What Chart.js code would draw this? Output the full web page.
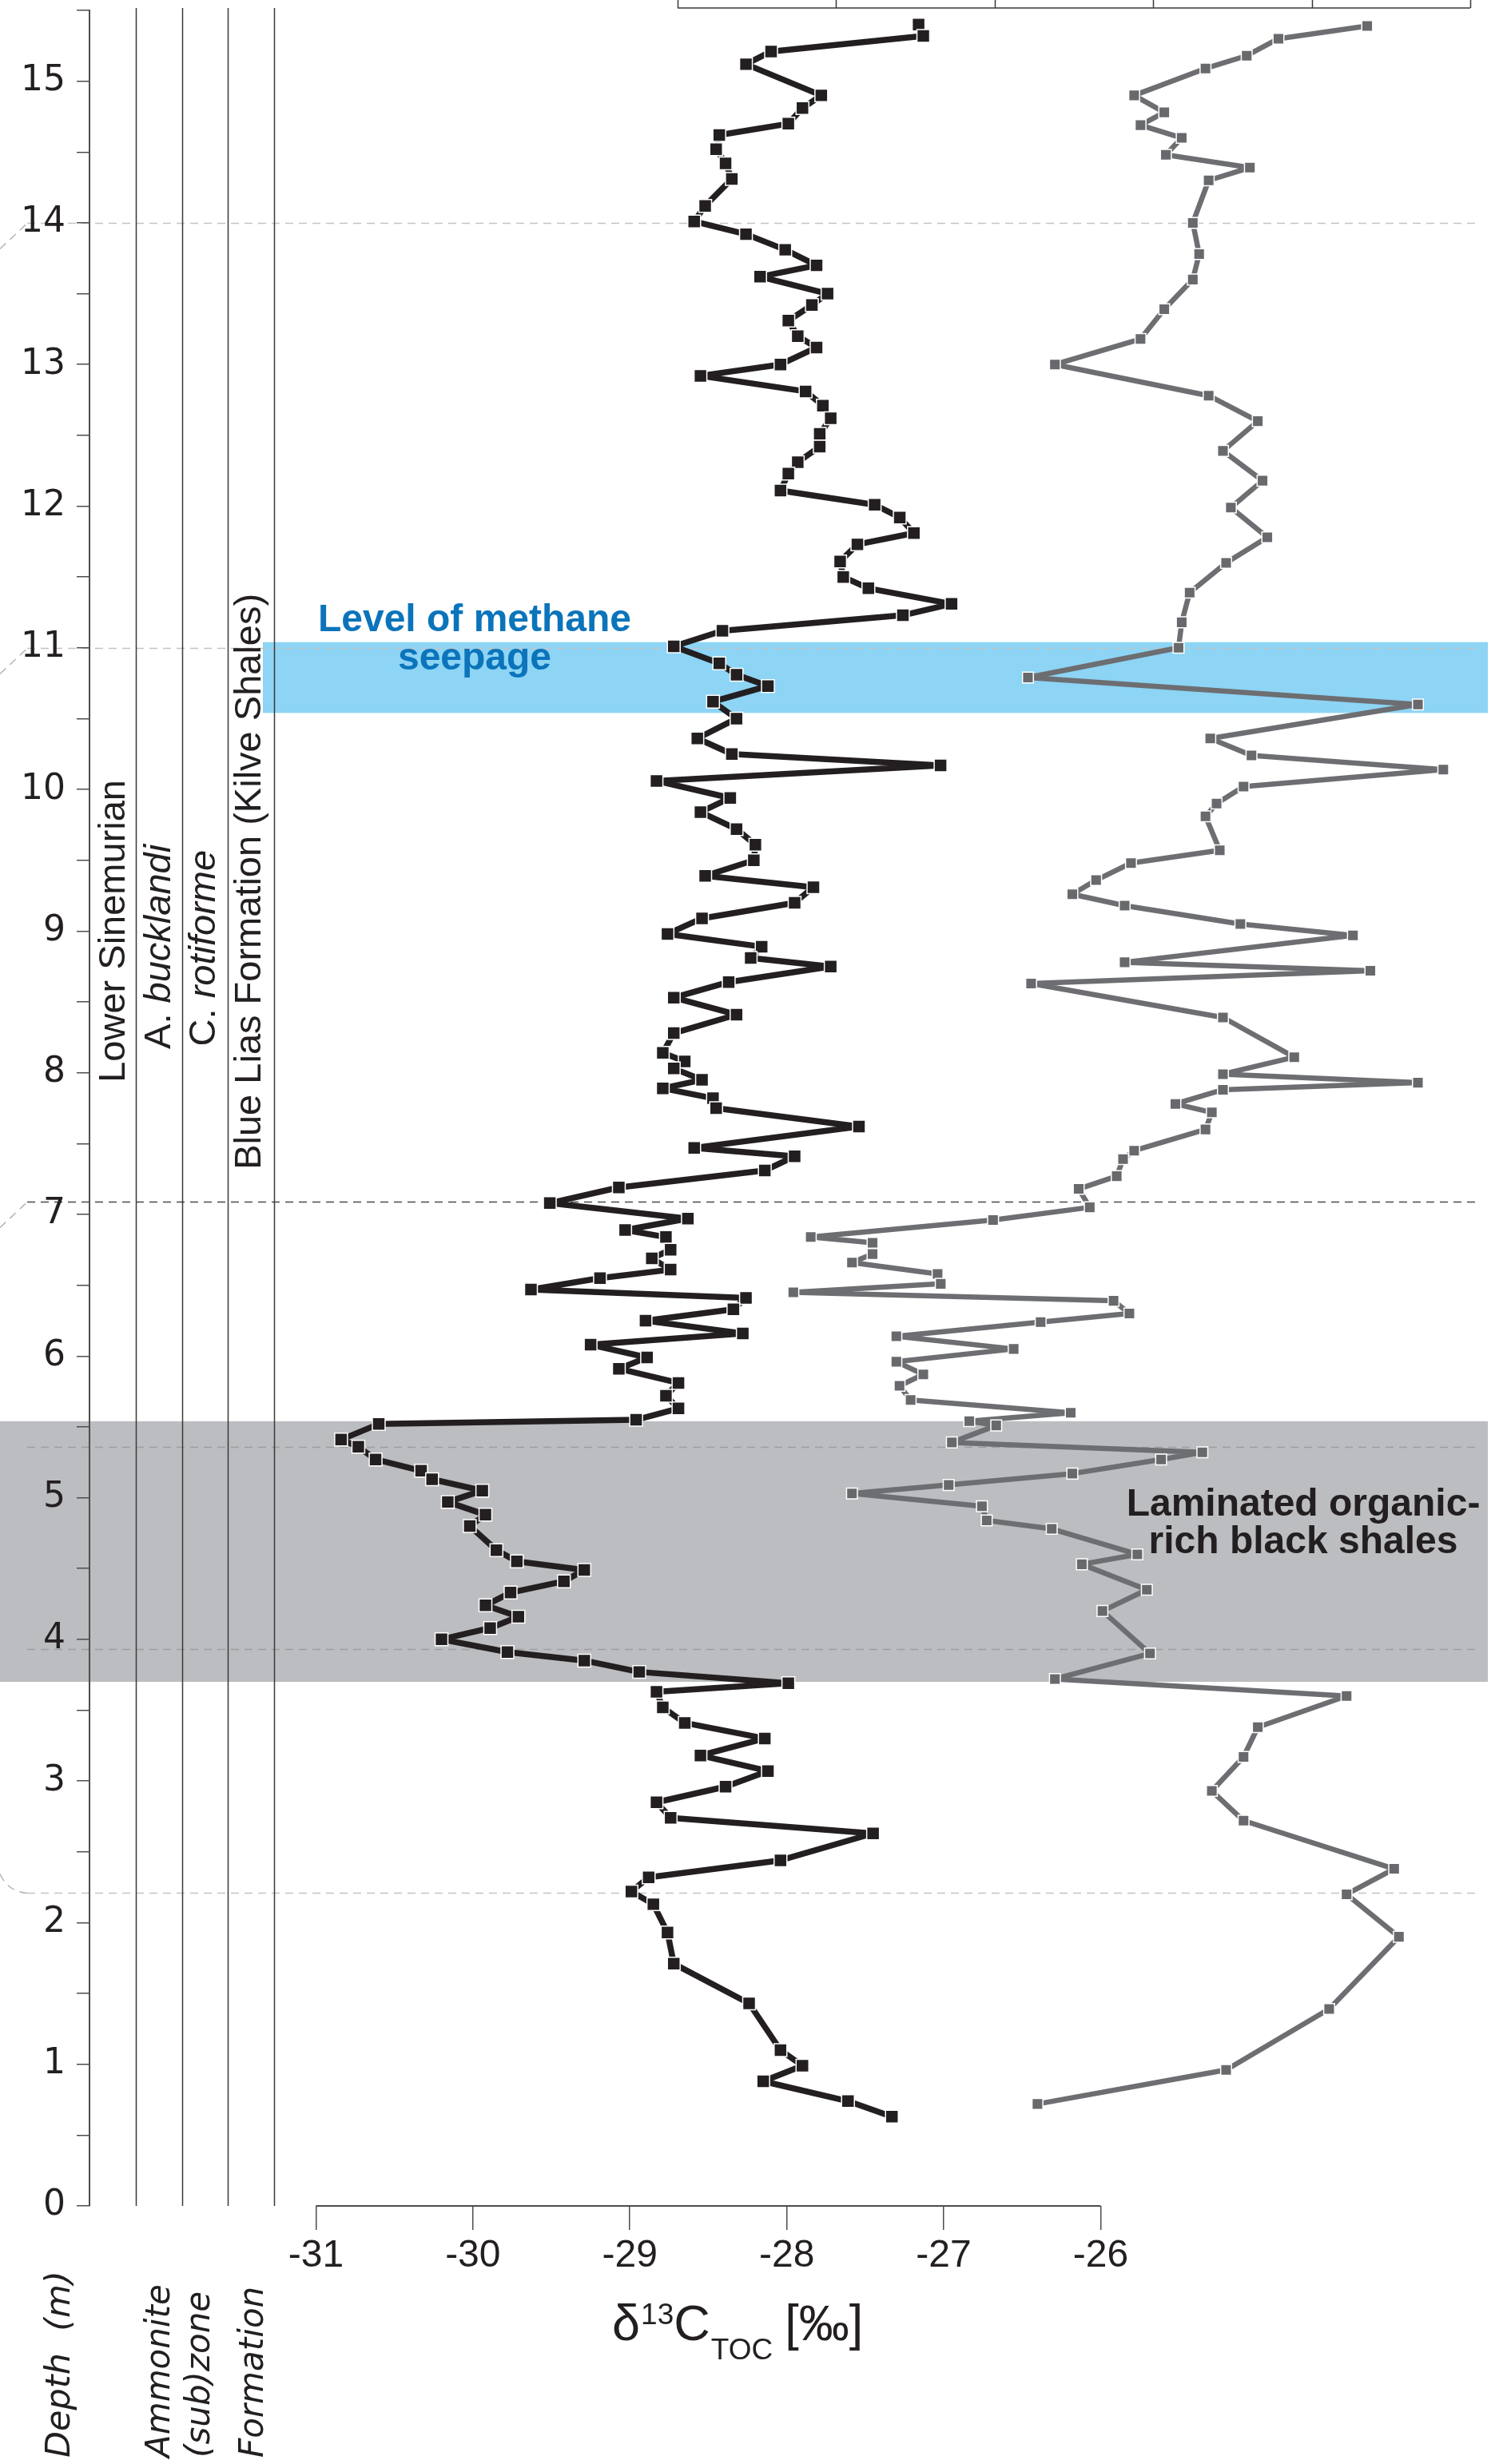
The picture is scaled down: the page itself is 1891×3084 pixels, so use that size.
<!DOCTYPE html>
<html>
<head>
<meta charset="utf-8">
<script src="https://cdn.jsdelivr.net/npm/chart.js@4.4.1/dist/chart.umd.min.js"></script>
<style>
  html, body { margin: 0; padding: 0; background: #ffffff; }
  #wrap { width: 1891px; height: 3084px; }
</style>
</head>
<body>
<div id="wrap"><canvas id="profile" width="1891" height="3084"></canvas></div>
<script>
// δ13C of total organic carbon, Kilve section (depth in m, value in ‰)
const tocDepth = [15.40,15.32,15.21,15.12,14.90,14.81,14.70,14.62,14.52,14.42,
  14.31,14.12,14.01,13.92,13.81,13.70,13.62,13.50,13.42,13.31,
  13.20,13.12,13.00,12.92,12.81,12.71,12.62,12.51,12.42,12.31,
  12.23,12.11,12.01,11.92,11.81,11.73,11.61,11.50,11.42,11.31,
  11.23,11.12,11.01,10.89,10.81,10.73,10.62,10.50,10.36,10.25,
  10.17,10.06,9.94,9.84,9.72,9.61,9.50,9.39,9.31,9.20,
  9.09,8.98,8.89,8.81,8.75,8.64,8.53,8.41,8.28,8.14,
  8.08,8.03,7.95,7.89,7.82,7.75,7.62,7.47,7.41,7.31,
  7.19,7.08,6.97,6.89,6.84,6.75,6.69,6.61,6.55,6.47,
  6.41,6.33,6.25,6.16,6.08,5.99,5.91,5.81,5.72,5.63,
  5.55,5.52,5.41,5.36,5.27,5.19,5.13,5.05,4.97,4.88,
  4.80,4.63,4.55,4.49,4.41,4.33,4.24,4.16,4.08,4.00,
  3.91,3.85,3.77,3.69,3.63,3.52,3.41,3.30,3.18,3.07,
  2.96,2.85,2.74,2.63,2.44,2.32,2.22,2.13,1.93,1.71,
  1.43,1.10,0.99,0.88,0.74,0.63];
const tocIso = [-27.16,-27.13,-28.10,-28.26,-27.78,-27.90,-27.99,-28.43,-28.45,-28.39,
  -28.35,-28.52,-28.59,-28.26,-28.01,-27.81,-28.17,-27.74,-27.84,-27.99,
  -27.93,-27.81,-28.04,-28.55,-27.88,-27.77,-27.72,-27.79,-27.79,-27.93,
  -27.99,-28.04,-27.44,-27.28,-27.19,-27.55,-27.66,-27.64,-27.48,-26.95,
  -27.26,-28.41,-28.72,-28.43,-28.32,-28.12,-28.47,-28.32,-28.57,-28.35,
  -27.02,-28.83,-28.36,-28.55,-28.32,-28.20,-28.21,-28.52,-27.83,-27.95,
  -28.54,-28.76,-28.16,-28.23,-27.72,-28.37,-28.72,-28.32,-28.72,-28.79,
  -28.65,-28.72,-28.54,-28.79,-28.47,-28.45,-27.54,-28.59,-27.95,-28.14,
  -29.07,-29.51,-28.63,-29.03,-28.77,-28.74,-28.86,-28.74,-29.19,-29.63,
  -28.26,-28.34,-28.90,-28.28,-29.25,-28.89,-29.07,-28.69,-28.77,-28.69,
  -28.96,-30.60,-30.84,-30.73,-30.62,-30.33,-30.26,-29.94,-30.16,-29.92,
  -30.02,-29.85,-29.72,-29.29,-29.42,-29.76,-29.92,-29.71,-29.89,-30.20,
  -29.78,-29.29,-28.94,-27.99,-28.83,-28.79,-28.65,-28.14,-28.55,-28.12,
  -28.39,-28.83,-28.74,-27.45,-28.04,-28.88,-28.99,-28.85,-28.76,-28.72,
  -28.24,-28.04,-27.90,-28.15,-27.61,-27.33];

// Second profile, plotted against the upper scale
const upperDepth = [15.39,15.30,15.18,15.09,14.90,14.78,14.69,14.60,14.48,14.39,
  14.30,14.00,13.78,13.60,13.39,13.18,13.00,12.78,12.60,12.39,
  12.18,11.99,11.78,11.60,11.39,11.18,11.00,10.79,10.60,10.36,
  10.24,10.14,10.02,9.90,9.81,9.57,9.48,9.36,9.26,9.18,
  9.05,8.97,8.78,8.72,8.63,8.39,8.11,7.99,7.93,7.88,
  7.78,7.72,7.60,7.45,7.39,7.27,7.18,7.05,6.96,6.84,
  6.80,6.72,6.66,6.58,6.51,6.45,6.39,6.30,6.24,6.14,
  6.05,5.96,5.87,5.79,5.69,5.60,5.54,5.51,5.39,5.32,
  5.27,5.17,5.09,5.03,4.94,4.84,4.78,4.60,4.53,4.35,
  4.20,3.90,3.72,3.60,3.38,3.17,2.93,2.72,2.38,2.20,
  1.90,1.39,0.96,0.72];
const upperVal = [4.35,3.79,3.59,3.33,2.88,3.07,2.92,3.18,3.08,3.61,
  3.35,3.25,3.29,3.25,3.07,2.92,2.38,3.35,3.66,3.44,
  3.69,3.49,3.72,3.46,3.23,3.18,3.16,2.21,4.67,3.36,
  3.62,4.83,3.57,3.40,3.33,3.42,2.86,2.64,2.49,2.82,
  3.55,4.26,2.82,4.37,2.23,3.44,3.89,3.44,4.67,3.44,
  3.14,3.37,3.33,2.88,2.81,2.77,2.53,2.60,1.99,0.84,
  1.23,1.23,1.10,1.64,1.66,0.73,2.75,2.85,2.29,1.38,
  2.12,1.38,1.55,1.40,1.47,2.48,1.84,2.01,1.73,3.31,
  3.05,2.49,1.71,1.10,1.92,1.95,2.36,2.90,2.55,2.96,
  2.68,2.98,2.38,4.22,3.66,3.57,3.37,3.57,4.52,4.22,
  4.55,4.11,3.46,2.27];

// Axis ticks
const depthTicks = [0,0.5,1,1.5,2,2.5,3,3.5,4,4.5,5,5.5,6,6.5,7,7.5,8,8.5,9,9.5,
  10,10.5,11,11.5,12,12.5,13,13.5,14,14.5,15,15.5];
const isoTicks = [-31,-30,-29,-28,-27,-26];
const upperTicks = [0,1,2,3,4,5];

// Intervals and correlation levels (depth, m)
const seepageBand = [10.54, 11.04];
const shaleBand = [3.70, 5.54];
const correlationLevels = [14.0, 11.0, 7.09, 5.36, 3.93, 2.21];
const mainLevel = 7.09;

const INK = '#231f20';
const SANS = "'Liberation Sans', Arial, sans-serif";
const WIDE = "'DejaVu Sans', Verdana, sans-serif";

function vText(ctx, parts, x, y, align) {
  // text rotated to read bottom-to-top; parts = [[text, font], ...]
  ctx.save();
  ctx.translate(x, y);
  ctx.rotate(-Math.PI / 2);
  ctx.textBaseline = 'alphabetic';
  ctx.textAlign = 'left';
  let total = 0;
  const widths = parts.map(([t, f]) => { ctx.font = f; const w = ctx.measureText(t).width; total += w; return w; });
  let cx = align === 'center' ? -total / 2 : 0;
  parts.forEach(([t, f], i) => { ctx.font = f; ctx.fillText(t, cx, 0); cx += widths[i]; });
  ctx.restore();
}

const sectionPlugin = {
  id: 'section',
  beforeDraw(chart) {
    const { ctx, chartArea: ca, scales: { y } } = chart;
    ctx.save();
    // laminated black shale interval
    const sTop = y.getPixelForValue(shaleBand[1]);
    const sBot = y.getPixelForValue(shaleBand[0]);
    ctx.fillStyle = '#bcbdc0';
    ctx.fillRect(0, sTop, ca.right, sBot - sTop);
    // methane seepage level
    const bTop = y.getPixelForValue(seepageBand[1]);
    const bBot = y.getPixelForValue(seepageBand[0]);
    ctx.fillStyle = '#8dd4f5';
    ctx.fillRect(329, bTop, ca.right - 329, bBot - bTop);

    // correlation levels
    ctx.lineWidth = 1.5;
    ctx.setLineDash([10, 7]);
    correlationLevels.forEach(d => {
      const py = Math.round(y.getPixelForValue(d)) + 0.5;
      const main = d === mainLevel;
      const inShale = d > shaleBand[0] && d < shaleBand[1];
      ctx.strokeStyle = main ? '#4a4a4a' : (inShale ? '#9d9ea1' : '#c4c4c4');
      ctx.beginPath();
      ctx.moveTo(34, py);
      ctx.lineTo(1850, py);
      ctx.stroke();
      if (!inShale) {
        ctx.strokeStyle = '#b5b5b5';
        ctx.beginPath();
        if (d < 3) { ctx.moveTo(0, py - 24); ctx.quadraticCurveTo(10, py - 2, 34, py); }
        else { ctx.moveTo(0, py + 32); ctx.lineTo(34, py); }
        ctx.stroke();
      }
    });
    ctx.setLineDash([]);

    // stratigraphic column dividers
    ctx.strokeStyle = '#3a3a3a';
    ctx.lineWidth = 1.5;
    [170, 228, 285, 343].forEach(x => {
      ctx.beginPath();
      ctx.moveTo(x + 0.5, 10);
      ctx.lineTo(x + 0.5, ca.bottom);
      ctx.stroke();
    });
    ctx.restore();
  },
  afterDraw(chart) {
    const { ctx, chartArea: ca, scales: { x, y, x2 } } = chart;
    ctx.save();
    ctx.fillStyle = INK;

    // bottom axis line, limited to the labelled range
    ctx.strokeStyle = '#4d4d4d';
    ctx.lineWidth = 2;
    ctx.beginPath();
    ctx.moveTo(x.getPixelForValue(isoTicks[0]), ca.bottom);
    ctx.lineTo(x.getPixelForValue(isoTicks[isoTicks.length - 1]), ca.bottom);
    ctx.stroke();

    // upper scale frame
    ctx.strokeStyle = '#3a3a3a';
    ctx.lineWidth = 1.5;
    const u0 = x2.getPixelForValue(upperTicks[0]);
    const u1 = x2.getPixelForValue(upperTicks[upperTicks.length - 1]);
    ctx.beginPath();
    ctx.moveTo(u0, 10); ctx.lineTo(u1, 10);
    upperTicks.forEach(v => { const px = Math.round(x2.getPixelForValue(v)) + 0.5; ctx.moveTo(px, 0); ctx.lineTo(px, 10); });
    ctx.stroke();

    // axis title δ13C TOC [‰]
    const big = `63px ${SANS}`, small = `37px ${SANS}`;
    const tb = 2929;
    let tx = 766;
    ctx.textBaseline = 'alphabetic';
    ctx.textAlign = 'left';
    const put = (t, f, dy, gap) => { ctx.font = f; ctx.fillText(t, tx, tb + dy); tx += ctx.measureText(t).width + gap; };
    put('\u03B4', big, 0, 1);
    put('13', small, -20, 0);
    put('C', big, 0, 1);
    put('TOC', small, 24, 15);
    put('[\u2030]', big, 0, 0);

    // annotations
    ctx.textAlign = 'center';
    ctx.font = `bold 48px ${SANS}`;
    ctx.fillStyle = '#0b74bb';
    ctx.fillText('Level of methane', 594, y.getPixelForValue(11.116));
    ctx.fillText('seepage', 594, y.getPixelForValue(10.848));
    ctx.fillStyle = INK;
    ctx.fillText('Laminated organic-', 1631, y.getPixelForValue(4.872));
    ctx.fillText('rich black shales', 1631, y.getPixelForValue(4.607));

    // stratigraphic column labels
    const colFont = `47px ${SANS}`, colItal = `italic 47px ${SANS}`;
    vText(ctx, [['Lower Sinemurian', colFont]], 156, y.getPixelForValue(9.0), 'center');
    vText(ctx, [['A. ', colFont], ['bucklandi', colItal]], 213, y.getPixelForValue(8.89), 'center');
    vText(ctx, [['C. ', colFont], ['rotiforme', colItal]], 269, y.getPixelForValue(8.88), 'center');
    vText(ctx, [['Blue Lias Formation (Kilve Shales)', colFont]], 326, y.getPixelForValue(9.35), 'center');

    // column headings
    const hFont = `oblique 42px ${WIDE}`;
    vText(ctx, [['Depth  (m)', `oblique 43px ${WIDE}`]], 87, 3076, 'left');
    vText(ctx, [['Ammonite', hFont]], 212, 3076, 'left');
    vText(ctx, [['(sub)zone', hFont]], 262, 3076, 'left');
    vText(ctx, [['Formation', hFont]], 329, 3076, 'left');
    ctx.restore();
  }
};

const tocPoints = tocDepth.map((d, i) => ({ x: tocIso[i], y: d }));
const upperPoints = upperDepth.map((d, i) => ({ x: upperVal[i], y: d }));

new Chart(document.getElementById('profile'), {
  type: 'scatter',
  data: {
    datasets: [
      {
        data: upperPoints,
        xAxisID: 'x2',
        showLine: true,
        borderColor: '#6d6e71',
        borderWidth: 6.5,
        borderJoinStyle: 'round',
        tension: 0,
        pointStyle: 'rect',
        pointRadius: 9.6,
        pointBackgroundColor: '#68696c',
        pointBorderColor: '#ffffff',
        pointBorderWidth: 1.5
      },
      {
        data: tocPoints,
        xAxisID: 'x',
        showLine: true,
        borderColor: INK,
        borderWidth: 7.5,
        borderJoinStyle: 'round',
        tension: 0,
        pointStyle: 'rect',
        pointRadius: 11.3,
        pointBackgroundColor: INK,
        pointBorderColor: '#ffffff',
        pointBorderWidth: 1.5
      }
    ]
  },
  options: {
    responsive: false,
    maintainAspectRatio: false,
    devicePixelRatio: 1,
    animation: false,
    layout: { padding: { left: 0, top: 13, right: 29, bottom: 0 } },
    plugins: { legend: { display: false }, tooltip: { enabled: false } },
    scales: {
      x: {
        type: 'linear',
        position: 'bottom',
        min: -32.443,
        max: -23.533,
        afterBuildTicks: s => { s.ticks = isoTicks.map(v => ({ value: v })); },
        afterFit: s => { s.height = 323; s.paddingLeft = 0; s.paddingRight = 0; },
        ticks: {
          autoSkip: false, maxRotation: 0, padding: 4,
          color: INK,
          font: { family: SANS, size: 48 },
          callback: v => String(v)
        },
        grid: { drawOnChartArea: false, drawTicks: true, tickLength: 30, color: '#4d4d4d', lineWidth: 1.5 },
        border: { display: false }
      },
      x2: {
        type: 'linear',
        position: 'top',
        display: false,
        min: -3.7097,
        max: 5.1109
      },
      y: {
        type: 'linear',
        position: 'left',
        min: 0,
        max: 15.5,
        afterBuildTicks: s => { s.ticks = depthTicks.map(v => ({ value: v })); },
        afterFit: s => { s.width = 112; s.paddingTop = 0; s.paddingBottom = 0; },
        ticks: {
          autoSkip: false, padding: 14,
          color: INK,
          font: { family: WIDE, size: 44 },
          callback: v => Number.isInteger(v) ? String(v) : ''
        },
        grid: { drawOnChartArea: false, drawTicks: true, tickLength: 16, color: '#4d4d4d', lineWidth: 1.5 },
        border: { display: true, color: '#4d4d4d', width: 2 }
      }
    }
  },
  plugins: [sectionPlugin]
});
</script>
</body>
</html>
